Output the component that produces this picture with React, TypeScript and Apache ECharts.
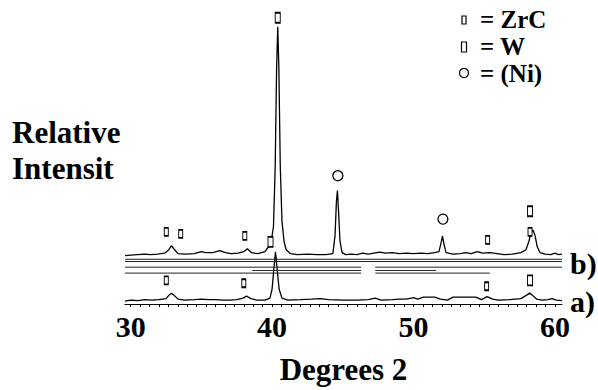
import React, { useEffect, useRef } from "react";
import * as echarts from "echarts";

// Degrees 2θ vs. relative intensity (height above each trace's baseline)
const traceB: [number, number][] = [
  [29.6, 0], [30.0, 0.5], [30.5, 1], [31.0, 1.5], [31.4, 1], [31.9, 1.5], [32.4, 2.5], [32.7, 6], [32.88, 10],
  [33.05, 7], [33.35, 2], [33.9, 1.5], [34.5, 2], [35.0, 4], [35.3, 3], [35.8, 3], [36.3, 5], [36.7, 3],
  [37.1, 2], [37.6, 2.5], [38.0, 4], [38.25, 7], [38.55, 3], [39.0, 2], [39.5, 4], [39.75, 9], [39.95, 15],
  [40.1, 30], [40.22, 90], [40.32, 190], [40.4, 232], [40.48, 190], [40.58, 90], [40.7, 35], [40.85, 14],
  [41.0, 6], [41.3, 2], [41.8, 1], [42.5, 1.5], [43.2, 1], [43.8, 1], [44.3, 2], [44.45, 20], [44.55, 55],
  [44.62, 66], [44.7, 45], [44.8, 15], [44.95, 3], [45.2, 1], [45.6, 1.5], [46.0, 1], [46.4, 2.5], [46.8, 1.5],
  [47.2, 2.5], [47.6, 3.5], [48.0, 2.5], [48.5, 3], [49.0, 2], [49.5, 2.5], [50.0, 2], [50.5, 2.5], [51.0, 2],
  [51.5, 3], [51.8, 4], [51.95, 13], [52.05, 20], [52.15, 12], [52.3, 3], [52.8, 1.5], [53.3, 2], [53.7, 3],
  [54.1, 2], [54.5, 4], [54.9, 2.5], [55.4, 3], [55.9, 2], [56.4, 1], [57.0, 1.5], [57.6, 3], [57.95, 6],
  [58.15, 14], [58.3, 23], [58.45, 26], [58.6, 20], [58.75, 9], [58.95, 3], [59.3, 1.5], [59.7, 1], [60.0, 2.5],
  [60.25, 1], [60.5, 1.5],
];

const traceA: [number, number][] = [
  [29.6, 0], [30.0, 1], [30.5, 0.5], [31.0, 1.5], [31.5, 1], [32.0, 1.5], [32.5, 2.5], [32.72, 6], [32.88, 8],
  [33.05, 6], [33.35, 2], [33.8, 1], [34.5, 1.5], [35.0, 2], [35.5, 1.5], [36.0, 1.5], [36.5, 1], [37.0, 1],
  [37.5, 1.5], [37.95, 3], [38.2, 5], [38.5, 2.5], [38.9, 1], [39.5, 1], [39.85, 3], [40.0, 12], [40.12, 32],
  [40.24, 50], [40.36, 32], [40.5, 12], [40.7, 3], [41.1, 1], [42.0, 1.5], [42.8, 2], [43.4, 2.5], [44.0, 1.5],
  [45.0, 1], [46.0, 1], [46.8, 1.5], [47.3, 3], [47.7, 1], [48.5, 1.5], [49.0, 2], [49.5, 2], [50.0, 3.5],
  [50.3, 2], [50.7, 4], [51.5, 4], [51.9, 2], [52.4, 1], [52.8, 4], [54.4, 4], [54.8, 1.5], [55.2, 4.5],
  [55.6, 2], [56.0, 1], [56.8, 1.5], [57.6, 2.5], [58.0, 6], [58.2, 8], [58.4, 6], [58.7, 2], [59.1, 1],
  [59.5, 1.5], [59.8, 2.5], [60.1, 1], [60.5, 0.5],
];

const offsetB = 49;
const offsetA = 3;

// stray horizontal scan lines: [from, to, level]
const scanLines: [number, number, number][] = [
  [29.6, 60.5, 45.3], [29.6, 60.5, 43], [29.6, 46.3, 37.3], [47.3, 60.5, 37.3],
  [38.6, 46.3, 34], [47.3, 51.6, 34], [29.6, 46.3, 31.3], [47.3, 55.4, 31.3],
];

// phase markers: [2θ, height]
const zrcMarks: [number, number][] = [
  [32.52, 73], [33.54, 71], [38.07, 69], [55.24, 65], [58.24, 73],
  [32.52, 24], [38.0, 21], [55.17, 18],
];
const wMarks: [number, number][] = [[39.89, 63], [40.4, 290], [58.24, 94], [58.24, 24]];
const niMarks: [number, number][] = [[44.65, 130], [52.08, 86]];

const xLabels = [30, 40, 50, 60];
const legendNames = ["= ZrC", "= W", "= (Ni)"];

const FONT = "Liberation Serif";

export default function App() {
  const ref = useRef<HTMLDivElement>(null);
  useEffect(() => {
    if (!ref.current) return;
    const chart = echarts.init(ref.current, null, { renderer: "svg" });
    const ticks: number[] = [];
    for (let i = 0; i <= 45; i++) ticks.push(30 + (i * 2) / 3);
    const line = (data: [number, number][], off: number) => ({
      type: "line",
      data: data.map(([x, y]) => [x, y + off]),
      symbol: "none",
      lineStyle: { color: "#000", width: 1.3 },
      silent: true,
    });
    const scanSeries = scanLines.map(([a, b, y]) => ({
      type: "line",
      data: [[a, y], [b, y]],
      symbol: "none",
      lineStyle: { color: "#222", width: 1 },
      silent: true,
    }));
    const marker = (data: [number, number][], symbol: string, size: any) => ({
      type: "scatter",
      data,
      symbol,
      symbolSize: size,
      itemStyle: { color: "#fff", borderColor: "#000", borderWidth: 1.3, opacity: 1 },
      z: 5,
    });
    const title = (text: string, left: number, top: number, size: number) => ({
      text,
      left,
      top,
      padding: 0,
      itemGap: 0,
      textStyle: {
        fontFamily: FONT,
        fontWeight: "bold",
        fontSize: size,
        color: "#000",
        lineHeight: size,
      },
    });
    chart.setOption({
      animation: false,
      backgroundColor: "#fff",
      title: [
        title("Relative", 12, 117, 31),
        title("Intensit", 12, 153, 31),
        title(legendNames[0], 480, 7, 25),
        title(legendNames[1], 480, 34, 25),
        title(legendNames[2], 480, 61, 25),
        title("b)", 570, 248, 30),
        title("a)", 570, 286, 30),
      ],
      grid: { left: 125, right: 36, top: 0, bottom: 82 },
      xAxis: {
        type: "value",
        min: 29.6,
        max: 60.5,
        splitLine: { show: false },
        axisLine: { show: true, lineStyle: { color: "#000", width: 1 } },
        axisTick: { show: true, customValues: ticks, length: 3, lineStyle: { color: "#000" } },
        axisLabel: {
          customValues: xLabels,
          color: "#000",
          fontFamily: FONT,
          fontWeight: "bold",
          fontSize: 30,
          margin: 7,
        },
        name: "Degrees 2",
        nameLocation: "middle",
        nameGap: 50,
        nameTextStyle: { color: "#000", fontFamily: FONT, fontWeight: "bold", fontSize: 31 },
      },
      yAxis: { type: "value", min: 0, max: 308, show: false },
      series: [
        line(traceB, offsetB),
        line(traceA, offsetA),
        ...scanSeries,
        marker(zrcMarks, "rect", [4, 8]),
        marker(wMarks, "rect", [5, 10]),
        marker(niMarks, "circle", 10),
      ],
      graphic: [
        { type: "rect", shape: { x: 462, y: 16, width: 4, height: 8 }, style: { fill: "#fff", stroke: "#000", lineWidth: 1.2 } },
        { type: "rect", shape: { x: 461.5, y: 42, width: 5, height: 10 }, style: { fill: "#fff", stroke: "#000", lineWidth: 1.2 } },
        { type: "circle", shape: { cx: 464, cy: 73, r: 4.5 }, style: { fill: "#fff", stroke: "#000", lineWidth: 1.2 } },
      ],
    });
    return () => chart.dispose();
  }, []);
  return (
    <div
      ref={ref}
      style={{ position: "fixed", left: 0, top: 0, width: 598, height: 390, background: "#fff" }}
    />
  );
}
